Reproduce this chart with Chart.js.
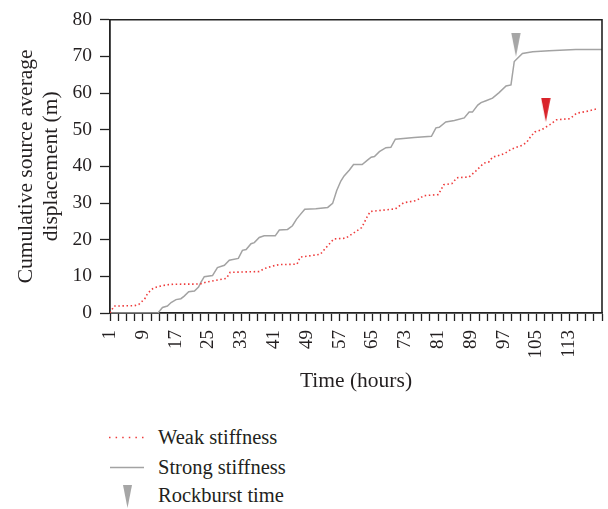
<!DOCTYPE html>
<html>
<head>
<meta charset="utf-8">
<script src="https://cdn.jsdelivr.net/npm/chart.js@4/dist/chart.umd.min.js"></script>
<style>
  html, body { margin: 0; padding: 0; background: #ffffff; }
  #wrap { position: relative; width: 608px; height: 509px; overflow: hidden; }
  #chart { position: absolute; left: 0; top: 0; }
  .lg { position: absolute; font-family: "Liberation Serif", "Times New Roman", serif; font-size: 20.5px; line-height: 24px; color: #231f20; white-space: nowrap; }
  svg.key { position: absolute; left: 0; top: 400px; }
</style>
</head>
<body>
<div id="wrap">
  <canvas id="chart" width="608" height="400"></canvas>
  <svg class="key" width="200" height="109">
    <line x1="109" y1="37.5" x2="146" y2="37.5" stroke="#ee3b3b" stroke-width="1.6" stroke-dasharray="1.5 5.1"></line>
    <line x1="110" y1="67.5" x2="144" y2="67.5" stroke="#a3a3a3" stroke-width="1.5"></line>
    <polygon points="123,85 132,85 127.5,108" fill="#a6a6a6"></polygon>
  </svg>
  <div class="lg" style="left:158px; top:425px;">Weak stiffness</div>
  <div class="lg" style="left:158px; top:455px;">Strong stiffness</div>
  <div class="lg" style="left:158px; top:483px;">Rockburst time</div>
</div>
<script>
// Cumulative source average displacement (m) against time (hours)
const weakHours  = [1, 2, 7, 8, 8.6, 9.4, 10.2, 11.4, 12.4, 14.8, 16.6, 23.0, 24.4, 29.4, 30.3, 37.4, 38.6, 40.6, 42.3, 46.6, 47.4, 52.3, 53.5, 55.6, 58.5, 60.4, 62.4, 63.7, 64.5, 70.6, 72.6, 75.8, 77.5, 81.1, 82.4, 84.4, 85.6, 88.6, 90.2, 92.2, 93.4, 94.3, 96.5, 97.4, 98.9, 101.4, 102.6, 103.4, 104.6, 106.3, 108.3, 109.9, 113.2, 114.8, 117.3, 119.8, 120];
const weakValues = [0, 1.9, 2.0, 2.3, 3.0, 3.7, 5.4, 6.6, 7.1, 7.7, 7.85, 7.9, 8.4, 9.45, 11.1, 11.3, 12.1, 12.8, 13.2, 13.3, 15.25, 16.0, 17.6, 20.2, 20.4, 21.8, 23.3, 26.2, 27.7, 28.4, 30.05, 30.7, 32.0, 32.3, 35.0, 35.3, 36.9, 37.1, 38.7, 40.9, 41.2, 42.5, 43.2, 43.6, 44.7, 45.7, 46.5, 47.8, 49.4, 50.0, 51.4, 52.7, 53.0, 54.5, 55.0, 55.7, 55.8];

const strongHours  = [1, 12.7, 13.8, 15, 15.9, 17.1, 18.3, 19.1, 20.2, 21.6, 22.6, 23.2, 24, 26, 27.2, 28.9, 30.1, 32.3, 33.3, 34.2, 35.4, 36.2, 37.4, 38.6, 41.3, 42.3, 44.3, 45.5, 46.5, 47.3, 48.5, 51.2, 54.1, 55.3, 56.3, 57.3, 58.1, 59.4, 60.4, 62.5, 63.8, 64.7, 65.5, 66.7, 68.3, 69.5, 70.6, 75.2, 79.4, 80.5, 81.3, 82.9, 85, 87.4, 88.6, 89.4, 90.7, 91.5, 92.7, 94.3, 95.9, 97.6, 98.8, 99.6, 100.4, 101.6, 104.1, 108.1, 114.6, 121];
const strongValues = [0, 0, 1.5, 1.9, 2.85, 3.65, 3.9, 4.6, 5.8, 6.0, 7.05, 8.4, 9.9, 10.2, 12.4, 13.0, 14.4, 14.9, 17.1, 17.3, 18.9, 19.2, 20.6, 21.05, 21.05, 22.65, 22.8, 23.8, 25.6, 26.7, 28.3, 28.45, 28.8, 29.9, 33.4, 36.0, 37.4, 39.0, 40.5, 40.5, 41.7, 42.5, 42.7, 44.0, 45.1, 45.2, 47.4, 47.9, 48.2, 50.5, 50.65, 52.1, 52.5, 53.2, 54.8, 54.8, 56.7, 57.4, 57.9, 58.6, 60.1, 61.9, 62.2, 68.6, 69.5, 70.8, 71.25, 71.5, 71.9, 71.9];

// Rockburst moments: [weak stiffness, strong stiffness]
const rockburstHours  = [107.3, 100];
const rockburstValues = [52.1, 69.9];

const xTickLabels = ['1', '9', '17', '25', '33', '41', '49', '57', '65', '73', '81', '89', '97', '105', '113'];
const yTickValues = [0, 10, 20, 30, 40, 50, 60, 70, 80];

const toPoints = (xs, ys) => xs.map((x, i) => ({ x: x, y: ys[i] }));

// Narrow downward triangle whose tip sits at the centre of the image
function arrowMarker(color) {
  const c = document.createElement('canvas');
  c.width = 10; c.height = 48;
  const g = c.getContext('2d');
  g.fillStyle = color;
  g.beginPath();
  g.moveTo(0.3, 0); g.lineTo(9.7, 0); g.lineTo(5, 24); g.closePath();
  g.fill();
  return c;
}

const FONT = "'Liberation Serif', 'Times New Roman', serif";
const INK = '#231f20';

const framePlugin = {
  id: 'frame',
  afterDraw(chart) {
    const { ctx, chartArea: a } = chart;
    ctx.save();
    ctx.strokeStyle = '#222222';
    ctx.lineWidth = 1.6;
    ctx.beginPath();
    ctx.moveTo(a.left, a.top);
    ctx.lineTo(a.right, a.top);
    ctx.lineTo(a.right, a.bottom);
    ctx.stroke();
    ctx.restore();
  }
};

new Chart(document.getElementById('chart'), {
  type: 'line',
  data: {
    datasets: [
      {
        label: 'Weak stiffness',
        data: toPoints(weakHours, weakValues),
        borderColor: '#ee3b3b',
        borderWidth: 1.6,
        borderDash: [1.5, 2.6],
        pointRadius: 0,
        tension: 0,
        order: 2
      },
      {
        label: 'Strong stiffness',
        data: toPoints(strongHours, strongValues),
        borderColor: '#a3a3a3',
        borderWidth: 1.5,
        pointRadius: 0,
        tension: 0,
        order: 3
      },
      {
        label: 'Rockburst time (weak)',
        data: [{ x: rockburstHours[0], y: rockburstValues[0] }],
        showLine: false,
        pointStyle: arrowMarker('#d9232a'),
        pointRadius: 5,
        order: 1
      },
      {
        label: 'Rockburst time (strong)',
        data: [{ x: rockburstHours[1], y: rockburstValues[1] }],
        showLine: false,
        pointStyle: arrowMarker('#a6a6a6'),
        pointRadius: 5,
        order: 1
      }
    ]
  },
  options: {
    responsive: false,
    animation: false,
    devicePixelRatio: 1,
    layout: { padding: { top: 14, right: 5, bottom: 0, left: 0 } },
    plugins: {
      legend: { display: false },
      tooltip: { enabled: false }
    },
    scales: {
      x: {
        type: 'linear',
        min: 1,
        max: 121,
        afterFit(scale) { scale.height = 87; scale.paddingLeft = 0; scale.paddingRight = 0; },
        border: { display: true, color: '#222222', width: 1.8 },
        grid: { display: true, drawOnChartArea: false, drawTicks: true, tickLength: 8, tickColor: '#222222', tickWidth: 1.3 },
        ticks: {
          stepSize: 2,
          autoSkip: false,
          minRotation: 90,
          maxRotation: 90,
          padding: 9,
          color: INK,
          font: { family: FONT, size: 19 },
          callback: (v) => xTickLabels.includes(String(v)) ? String(v) : ''
        },
        title: {
          display: true,
          text: 'Time (hours)',
          color: INK,
          font: { family: FONT, size: 21.5 },
          padding: { top: 0, bottom: 6 }
        }
      },
      y: {
        min: 0,
        max: 80,
        afterFit(scale) { scale.width = 110; },
        afterBuildTicks(scale) { scale.ticks = yTickValues.map(v => ({ value: v })); },
        border: { display: true, color: '#222222', width: 1.8 },
        grid: { display: true, drawOnChartArea: false, drawTicks: true, tickLength: 10, tickColor: '#222222', tickWidth: 1.3 },
        ticks: {
          padding: 8,
          color: INK,
          font: { family: FONT, size: 19.5 }
        },
        title: {
          display: true,
          text: ['Cumulative source average', 'displacement (m)'],
          color: INK,
          font: { family: FONT, size: 21.5 },
          padding: { top: 13, bottom: 0 }
        }
      }
    }
  },
  plugins: [framePlugin]
});
</script>
</body>
</html>
